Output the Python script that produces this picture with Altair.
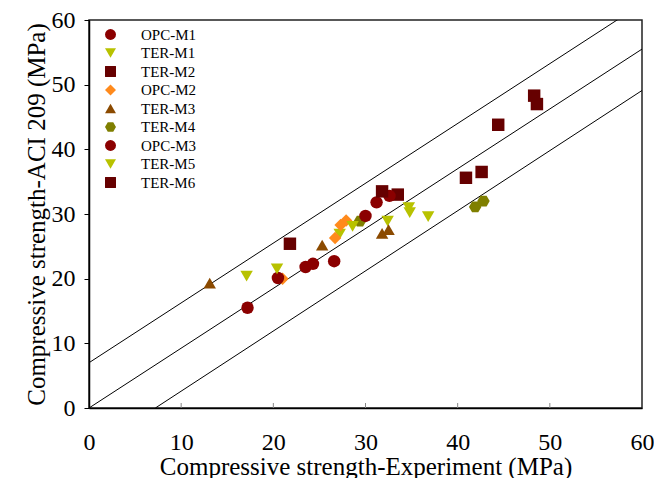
import altair as alt
import pandas as pd

# Series data (x: experiment, y: ACI 209)
series_names = ["OPC-M1", "TER-M1", "TER-M2", "OPC-M2", "TER-M3",
                "TER-M4", "OPC-M3", "TER-M5", "TER-M6"]

opc_m1_x = [17.2, 23.5, 26.6, 31.2]
opc_m1_y = [15.5, 21.8, 22.7, 31.8]
ter_m1_x = [17.1, 27.2, 32.4, 34.8]
ter_m1_y = [20.4, 26.9, 28.9, 30.2]
ter_m2_x = [21.8, 33.5, 42.6, 48.3]
ter_m2_y = [25.4, 33.0, 36.5, 48.3]
opc_m2_x = [21.0, 26.7, 27.3, 27.9]
opc_m2_y = [20.0, 26.3, 28.3, 29.0]
ter_m3_x = [13.1, 25.3, 31.8, 32.5]
ter_m3_y = [19.3, 25.2, 27.0, 27.6]
ter_m4_x = [29.4, 41.9, 42.8]
ter_m4_y = [28.9, 31.1, 32.0]
opc_m3_x = [20.5, 24.3, 30.0, 32.6]
opc_m3_y = [20.1, 22.3, 29.7, 32.8]
ter_m5_x = [20.4, 28.6, 34.7, 36.8]
ter_m5_y = [21.5, 28.1, 31.0, 29.6]
ter_m6_x = [31.8, 40.9, 44.4, 48.6]
ter_m6_y = [33.5, 35.6, 43.8, 47.0]

series_x = [opc_m1_x, ter_m1_x, ter_m2_x, opc_m2_x, ter_m3_x,
            ter_m4_x, opc_m3_x, ter_m5_x, ter_m6_x]
series_y = [opc_m1_y, ter_m1_y, ter_m2_y, opc_m2_y, ter_m3_y,
            ter_m4_y, opc_m3_y, ter_m5_y, ter_m6_y]

series_colors = ["#8B0000", "#B8C200", "#660000", "#FF8A1C", "#8B4A00",
                 "#7F7F00", "#8B0000", "#B8C200", "#660000"]
hexagon = "M-1,0L-0.5,-0.866L0.5,-0.866L1,0L0.5,0.866L-0.5,0.866Z"
series_shapes = ["circle", "triangle-down", "square", "diamond", "triangle-up",
                 hexagon, "circle", "triangle-down", "square"]

# Reference lines (endpoints)
line_names = ["upper", "center", "lower"]
line_x0 = [0.0, 0.0, 7.2]
line_y0 = [7.0, 0.0, 0.0]
line_x1 = [60.0, 60.0, 60.0]
line_y1 = [62.5, 55.5, 49.1]

tick_values = [0, 10, 20, 30, 40, 50, 60]

rows = []
for name, xs, ys in zip(series_names, series_x, series_y):
    for xv, yv in zip(xs, ys):
        rows.append({"series": name, "x": xv, "y": yv})
pts = pd.DataFrame(rows)

lrows = []
for n, a, b, c, d in zip(line_names, line_x0, line_y0, line_x1, line_y1):
    lrows.append({"line": n, "x": a, "y": b, "o": 0})
    lrows.append({"line": n, "x": c, "y": d, "o": 1})
lines_df = pd.DataFrame(lrows)

ticks_df = pd.DataFrame({"t": tick_values[1:-1]})

FONT = "Liberation Serif"
PLOT_H = 388

xscale = alt.Scale(domain=[0, 60], nice=False, zero=False)
yscale = alt.Scale(domain=[0, 60], nice=False, zero=False)

lines = alt.Chart(lines_df).mark_line(color="black", strokeWidth=1, clip=True).encode(
    x=alt.X("x:Q", scale=xscale,
            axis=alt.Axis(title="Compressive strength-Experiment (MPa)",
                          values=tick_values, ticks=False, labelPadding=22,
                          titlePadding=0, grid=False)),
    y=alt.Y("y:Q", scale=yscale,
            axis=alt.Axis(title="Compressive strength-ACI 209 (MPa)",
                          values=tick_values, tickSize=5, labelPadding=9,
                          titlePadding=2, grid=False)),
    detail="line:N",
    order="o:Q",
)

xticks = alt.Chart(ticks_df).mark_rule(color="#888", strokeWidth=1).encode(
    x=alt.X("t:Q", scale=xscale),
    y=alt.value(PLOT_H),
    y2=alt.value(PLOT_H - 5),
)

points = alt.Chart(pts).mark_point(filled=True, opacity=1, size=155).encode(
    x=alt.X("x:Q", scale=xscale),
    y=alt.Y("y:Q", scale=yscale),
    color=alt.Color("series:N",
                    scale=alt.Scale(domain=series_names, range=series_colors),
                    legend=alt.Legend(title=None, orient="none",
                                      legendX=14, legendY=7,
                                      symbolSize=120, labelFontSize=15,
                                      labelFont=FONT, rowPadding=2.5,
                                      labelOffset=23, symbolStrokeWidth=0,
                                      labelLimit=200)),
    shape=alt.Shape("series:N",
                    scale=alt.Scale(domain=series_names, range=series_shapes)),
)

chart = alt.layer(lines, xticks, points).properties(
    width=553, height=PLOT_H,
    autosize=alt.AutoSizeParams(type="none"),
    padding={"left": 81, "top": 12, "right": 12, "bottom": 70},
).configure_view(
    stroke="#222", strokeWidth=1.5
).configure_axis(
    labelFont=FONT, titleFont=FONT, labelFontSize=24, titleFontSize=25,
    titleFontWeight="normal", labelColor="black", titleColor="black",
    domainColor="black", domainWidth=1.5, tickColor="black",
    labelFlush=False
)

chart.save("out.html", embed_options={"renderer": "svg", "actions": False})
